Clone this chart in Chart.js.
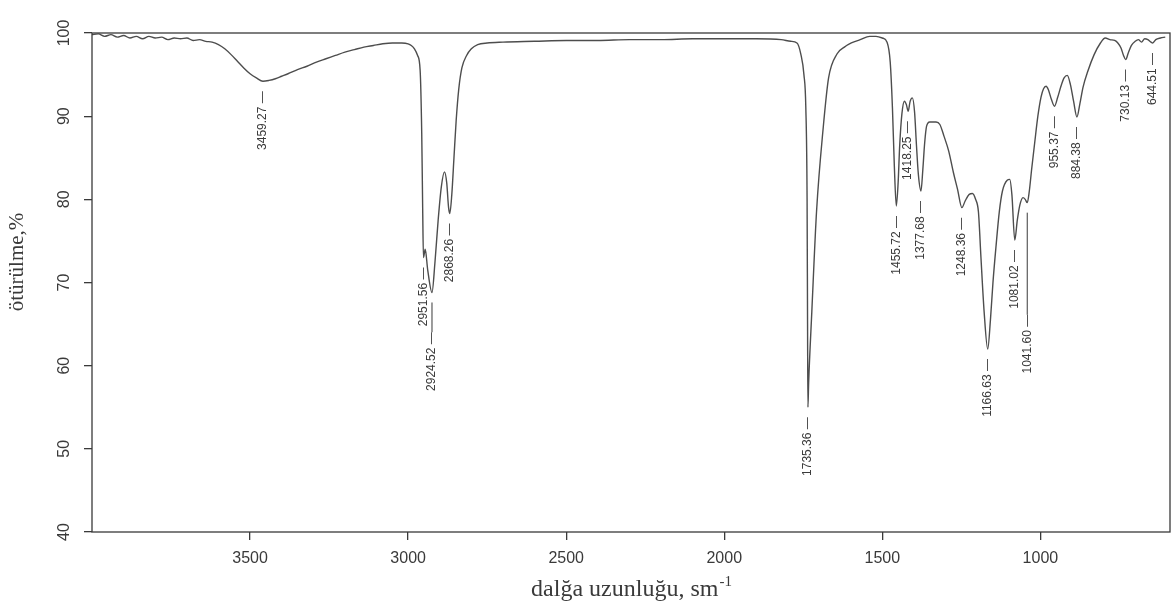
<!DOCTYPE html>
<html lang="az">
<head>
<meta charset="UTF-8">
<title>IQ spektr</title>
<script src="https://cdn.jsdelivr.net/npm/chart.js@4.4.1/dist/chart.umd.min.js"></script>
<style>
  html, body { margin: 0; padding: 0; background: #fff; }
  .wrap { width: 1176px; height: 611px; }
</style>
</head>
<body>
<div class="wrap"><canvas id="myChart" width="1176" height="611"></canvas></div>
<script>
// dalğa ədədi (sm-1) və ötürülmə (%)
const WAVENUMBER = [
  4000, 3980, 3960, 3940, 3920, 3900, 3880, 3860, 3840, 3820, 3800, 3780,
  3760, 3740, 3720, 3700, 3680, 3660, 3640, 3620, 3600, 3580, 3560, 3540,
  3520, 3500, 3480, 3459.27, 3440, 3420, 3400, 3380, 3350, 3320, 3290, 3260,
  3230, 3200, 3170, 3140, 3110, 3080, 3050, 3020, 3000, 2990, 2980, 2970,
  2962, 2957, 2954, 2951.56, 2946, 2938, 2924.52, 2915, 2905, 2895, 2885,
  2878, 2872, 2868.26, 2862, 2855, 2848, 2840, 2830, 2815, 2800, 2780, 2750,
  2700, 2600, 2500, 2400, 2300, 2200, 2100, 2000, 1900, 1820, 1790, 1770,
  1758, 1748, 1742, 1738, 1736.5, 1735.36, 1733, 1723, 1708, 1687, 1670,
  1643, 1620, 1598, 1570, 1540, 1520, 1500, 1485, 1475, 1468, 1462, 1455.72,
  1450, 1445, 1438, 1430, 1424, 1418.25, 1412, 1405, 1398, 1392, 1386,
  1377.68, 1372, 1366, 1360, 1350, 1330, 1318, 1305, 1290, 1275, 1262,
  1248.36, 1238, 1225, 1215, 1205, 1196, 1188, 1178, 1166.63, 1158, 1150,
  1140, 1130, 1120, 1105, 1097, 1090, 1081.02, 1073, 1065, 1055, 1048,
  1041.6, 1035, 1028, 1018, 1008, 998, 990, 982, 975, 965, 955.37, 945, 935,
  925, 915, 905, 895, 884.38, 875, 865, 850, 830, 810, 795, 780, 765, 755,
  745, 737, 730.13, 722, 712, 700, 690, 680, 670, 660, 650, 644.51, 635, 620,
  605,
];
const TRANSMITTANCE = [
  99.8, 99.9, 99.6, 99.8, 99.5, 99.7, 99.4, 99.6, 99.3, 99.6, 99.4, 99.5,
  99.2, 99.4, 99.3, 99.4, 99.1, 99.2, 99.0, 98.9, 98.6, 98.1, 97.4, 96.6,
  95.8, 95.1, 94.6, 94.2, 94.3, 94.5, 94.8, 95.1, 95.6, 96.0, 96.5, 96.9,
  97.3, 97.7, 98.0, 98.3, 98.5, 98.7, 98.8, 98.8, 98.7, 98.5, 98.1, 97.3,
  95.5, 88.0, 79.0, 73.0, 74.0, 71.5, 68.8, 72.5, 77.5, 81.5, 83.3,
  82.0, 79.0, 78.3, 80.5, 85.0, 89.5, 93.2, 95.8, 97.3, 98.1, 98.6, 98.8,
  98.9, 99.0, 99.1, 99.1, 99.2, 99.2, 99.3, 99.3, 99.3, 99.2, 99.0, 98.8,
  97.5, 95.0, 91.0, 80.0, 65.0, 55.0, 58.0, 66.5, 78.6, 88.6, 94.6,
  97.5, 98.3, 98.8, 99.2, 99.6, 99.6, 99.4, 98.9, 96.5, 91.0, 84.0, 79.2,
  82.0, 86.5, 90.3, 91.8, 91.4, 90.6, 91.8, 92.2, 90.5, 86.5, 83.0,
  81.0, 83.5, 86.8, 88.8, 89.3, 89.3, 89.0, 87.6, 85.8, 83.2, 81.2,
  79.0, 79.8, 80.6, 80.7, 80.0, 78.5, 73.0, 66.5, 62.0, 65.5, 70.0,
  74.5, 78.5, 81.0, 82.3, 82.4, 80.5, 75.1, 77.5, 79.3, 80.2, 80.0,
  79.6, 81.0, 83.5, 86.8, 90.0, 92.3, 93.3, 93.6, 93.2, 92.0, 91.2, 92.3, 93.6,
  94.6, 94.9, 93.8, 91.8, 89.9, 91.5, 93.5, 95.4, 97.4, 98.8, 99.4, 99.2, 99.1, 98.8,
  98.2, 97.3, 96.8, 97.6, 98.5, 99.0, 99.2, 98.9, 99.3, 99.2, 98.9, 98.8, 99.2, 99.4,
  99.5,
];
const PEAKS = [
  3459.27, 2951.56, 2924.52, 2868.26, 1735.36, 1455.72, 1418.25, 1377.68,
  1248.36, 1166.63, 1081.02, 1041.6, 955.37, 884.38, 730.13, 644.51,
];
const X_TICKS = [3500, 3000, 2500, 2000, 1500, 1000];
const Y_TICKS = [40, 50, 60, 70, 80, 90, 100];
const X_TITLE = "dalğa uzunluğu, sm";
const X_TITLE_SUP = "-1";
const Y_TITLE = "ötürülme,%";

const SANS = "'Liberation Sans', Arial, sans-serif";
const SERIF = "'Liberation Serif', 'Times New Roman', serif";
const INK = "#3a3a3a";

// çərçivə, y etiketləri və başlıqlar
const frame = {
  id: "frame",
  afterDraw(chart) {
    const { ctx, chartArea: a, scales: { y } } = chart;
    ctx.save();
    ctx.strokeStyle = INK;
    ctx.lineWidth = 1.3;
    ctx.strokeRect(a.left, a.top, a.right - a.left, a.bottom - a.top);

    ctx.fillStyle = INK;
    ctx.font = `16px ${SANS}`;
    ctx.textAlign = "center";
    ctx.textBaseline = "middle";
    Y_TICKS.forEach((v) => {
      ctx.save();
      ctx.translate(a.left - 27, y.getPixelForValue(v));
      ctx.rotate(-Math.PI / 2);
      ctx.fillText(String(v), 0, 0);
      ctx.restore();
    });

    ctx.font = `21px ${SERIF}`;
    ctx.save();
    ctx.translate(17, 262);
    ctx.rotate(-Math.PI / 2);
    ctx.fillText(Y_TITLE, 0, 0);
    ctx.restore();

    ctx.font = `24px ${SERIF}`;
    const w = ctx.measureText(X_TITLE).width;
    ctx.font = `15px ${SERIF}`;
    const ws = ctx.measureText(X_TITLE_SUP).width;
    const cx = (a.left + a.right) / 2;
    const start = cx - (w + ws) / 2;
    ctx.textAlign = "left";
    ctx.font = `24px ${SERIF}`;
    ctx.fillText(X_TITLE, start, 590);
    ctx.font = `15px ${SERIF}`;
    ctx.fillText(X_TITLE_SUP, start + w + 1, 582);
    ctx.restore();
  },
};

// pik etiketləri
const peakLabels = {
  id: "peakLabels",
  afterDatasetsDraw(chart) {
    const { ctx, scales: { x, y } } = chart;
    const placed = [];
    ctx.save();
    ctx.font = `12px ${SANS}`;
    ctx.fillStyle = INK;
    ctx.strokeStyle = INK;
    ctx.lineWidth = 1;
    ctx.textAlign = "right";
    ctx.textBaseline = "middle";
    PEAKS.forEach((wn) => {
      const i = WAVENUMBER.indexOf(wn);
      const px = x.getPixelForValue(wn);
      const py = y.getPixelForValue(TRANSMITTANCE[i]);
      const text = wn.toFixed(2) + " —";
      const len = ctx.measureText(text).width;
      const first = py + 10;
      let top = first;
      placed.forEach((p) => {
        if (Math.abs(p.x - px) < 14 && top < p.bottom + 4 && top + len > p.top) {
          top = p.bottom + 6;
        }
      });
      if (top > first) {
        ctx.beginPath();
        ctx.moveTo(px, first);
        ctx.lineTo(px, top);
        ctx.stroke();
      }
      ctx.save();
      ctx.translate(px, top);
      ctx.rotate(-Math.PI / 2);
      ctx.fillText(text, 0, 0);
      ctx.restore();
      placed.push({ x: px, top: top, bottom: top + len });
    });
    ctx.restore();
  },
};

const ctx = document.getElementById("myChart").getContext("2d");

const myChart = new Chart(ctx, {
  type: "line",
  data: {
    datasets: [
      {
        label: Y_TITLE,
        data: WAVENUMBER.map((w, i) => ({ x: w, y: TRANSMITTANCE[i] })),
        borderColor: "#4d4d4d",
        borderWidth: 1.4,
        pointRadius: 0,
        fill: false,
        cubicInterpolationMode: "monotone",
      },
    ],
  },
  options: {
    responsive: false,
    animation: false,
    layout: { padding: { top: 33, right: 6, left: 0, bottom: 0 } },
    plugins: {
      legend: { display: false },
      tooltip: { enabled: false },
    },
    scales: {
      x: {
        type: "linear",
        reverse: true,
        min: 590,
        max: 4000,
        afterBuildTicks: (scale) => {
          scale.ticks = X_TICKS.map((v) => ({ value: v }));
        },
        afterFit: (scale) => {
          scale.height = 79;
        },
        border: { display: false },
        grid: {
          drawOnChartArea: false,
          drawTicks: true,
          tickLength: 8,
          color: INK,
          lineWidth: 1.3,
        },
        ticks: {
          color: INK,
          font: { family: SANS, size: 16 },
          padding: 9,
          maxRotation: 0,
          callback: (v) => String(v),
        },
      },
      y: {
        min: 40,
        max: 100,
        afterBuildTicks: (scale) => {
          scale.ticks = Y_TICKS.map((v) => ({ value: v }));
        },
        afterFit: (scale) => {
          scale.width = 92;
        },
        border: { display: false },
        grid: {
          drawOnChartArea: false,
          drawTicks: true,
          tickLength: 8,
          color: INK,
          lineWidth: 1.3,
        },
        ticks: { display: false },
      },
    },
  },
  plugins: [peakLabels, frame],
});
</script>
</body>
</html>
